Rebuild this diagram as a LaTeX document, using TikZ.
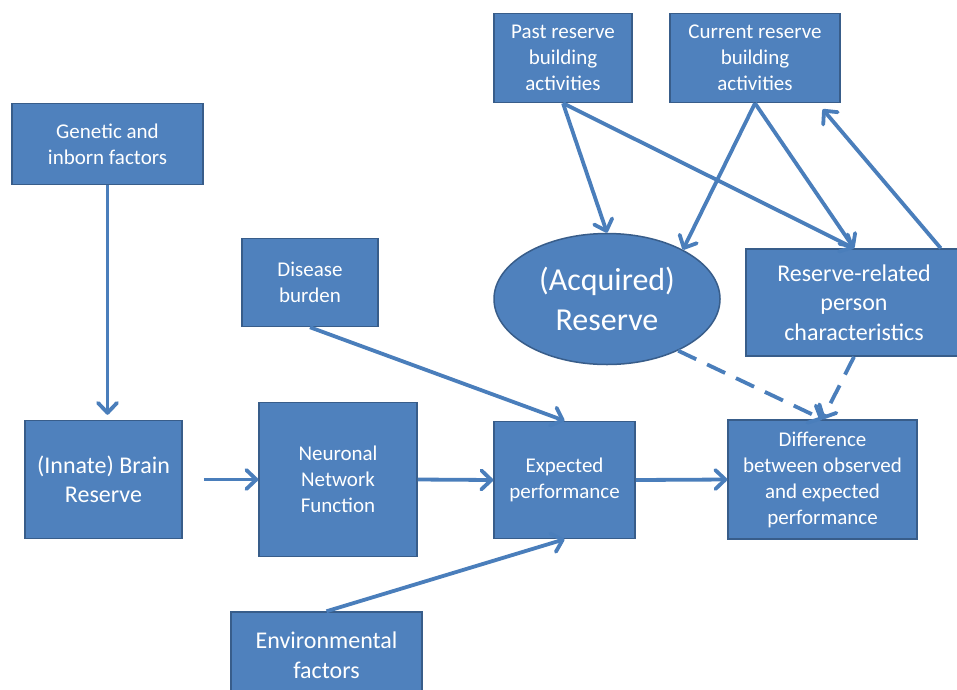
\documentclass[tikz,border=0pt]{standalone}
\usepackage{fontspec}
\setmainfont{Carlito}
\usetikzlibrary{shapes.geometric, arrows.meta, positioning}
\definecolor{boxblue}{HTML}{4F81BD}
\definecolor{boxborder}{HTML}{385D8A}
\definecolor{linkblue}{HTML}{4A7EBB}
\tikzstyle{factor} = [rectangle, align=center, draw=boxborder, line width=1.5pt, fill=boxblue, text=white, inner sep=2pt, font=\fontsize{21}{26}\selectfont]
\tikzstyle{bigfactor} = [factor, font=\fontsize{24}{29.5}\selectfont]
\tikzstyle{reserve} = [ellipse, align=center, draw=boxborder, line width=1.5pt, fill=boxblue, text=white, inner sep=0pt, font=\fontsize{32}{40}\selectfont]
\tikzstyle{connector} = [line width=3.8pt, draw=linkblue, -{Straight Barb[length=10pt,width=19pt,round]}]

\begin{document}
\begin{tikzpicture}[x=1pt, y=-1pt]

  \clip (0,0) rectangle (957,689);
  \fill[white] (0,0) rectangle (957,689);

  % Top: reserve building activities
  \node (past) at (563,58) [factor, minimum width=138pt, minimum height=89pt] {Past reserve\\building\\activities};
  \node (current) at (755,58) [factor, minimum width=170pt, minimum height=89pt] {Current reserve\\building\\activities};

  % Left side
  \node (genetic) at (107.5,144) [factor, minimum width=191pt, minimum height=81pt] {Genetic and\\inborn factors};
  \node (disease) at (310,282.5) [factor, minimum width=136pt, minimum height=88pt] {Disease\\burden};

  % Acquired reserve and person characteristics
  \node (acquired) at (607,299) [reserve, minimum width=226pt, minimum height=131pt] {(Acquired)\\Reserve};
  \node (related) at (854,302.5) [bigfactor, minimum width=216pt, minimum height=107pt] {Reserve-related\\person\\characteristics};

  % Middle row
  \node (innate) at (103.5,479.5) [bigfactor, minimum width=157pt, minimum height=118pt] {(Innate) Brain\\Reserve};
  \node (neuronal) at (338,479.5) [factor, minimum width=158pt, minimum height=154pt] {Neuronal\\Network\\Function};
  \node (expected) at (564.5,480) [factor, minimum width=141pt, minimum height=117pt] {Expected\\performance};
  \node (diff) at (822.5,479.5) [factor, minimum width=189pt, minimum height=119pt] {Difference\\between observed\\and expected\\performance};

  % Bottom
  \node (env) at (326.5,655) [bigfactor, minimum width=191pt, minimum height=86pt] {Environmental\\factors};

  % Arrows along the middle row
  \draw[connector, shorten >=5pt] (genetic.south) -- (genetic.south |- innate.north);
  \draw[connector, shorten <=21pt] (innate.east) -- (neuronal.west);
  \draw[connector] (neuronal.east) -- (expected.west);
  \draw[connector] (expected.east) -- (diff.west);

  % Arrows into expected performance
  \draw[connector] (disease.south) -- (expected.north);
  \draw[connector] (env.north) -- (expected.south);

  % Arrows from reserve building activities
  \draw[connector] (past.south) -- (acquired.north);
  \draw[connector] (past.south) -- (related.north);
  \draw[connector] (current.south) -- (acquired.33);
  \draw[connector] (current.south) -- (related.north);
  \draw[connector] ([xshift=-22pt]related.north east) -- ([xshift=-18pt,yshift=-6pt]current.south east);

  % Dashed arrows into the difference
  \draw[connector, dash pattern=on 20pt off 12pt] (acquired.-36) -- (diff.north);
  \draw[connector, dash pattern=on 20pt off 12pt] (related.south) -- (diff.north);

\end{tikzpicture}
\end{document}
